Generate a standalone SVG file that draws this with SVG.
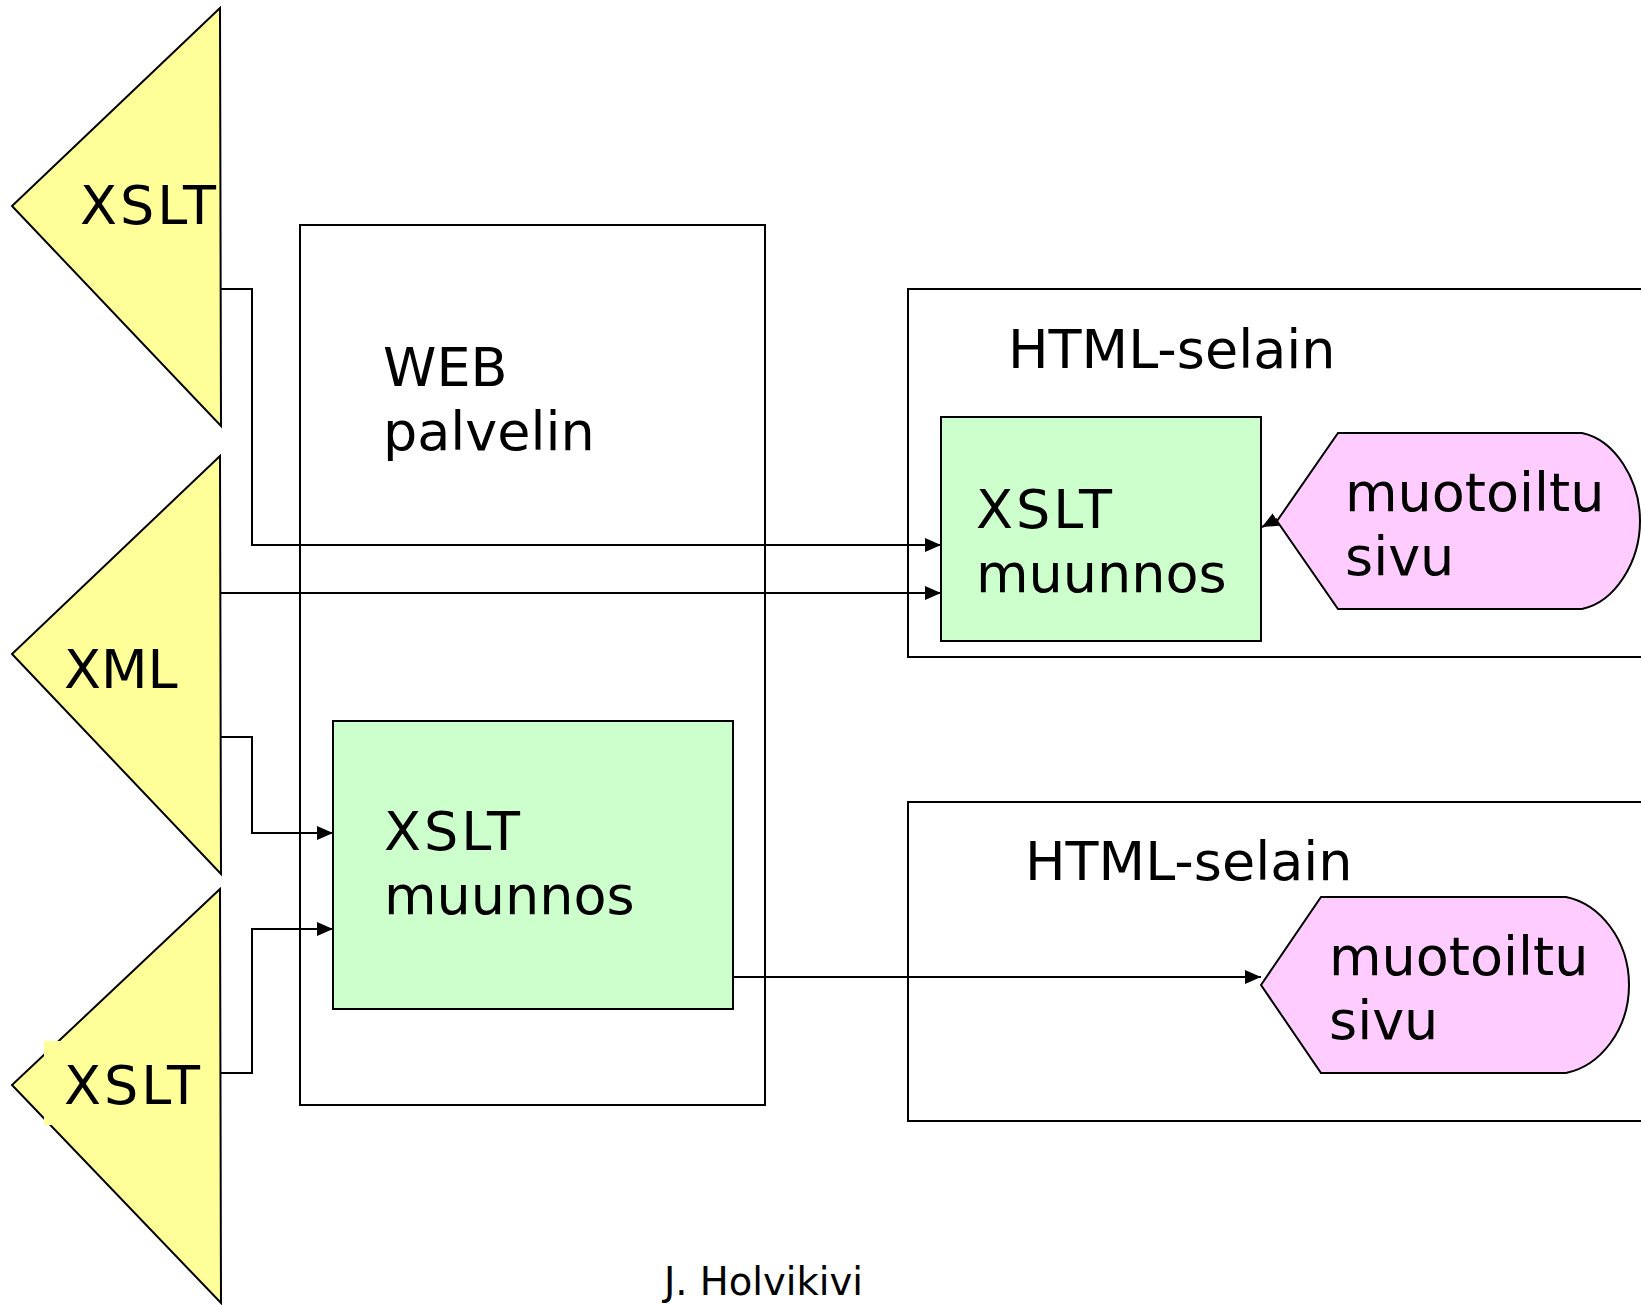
<svg xmlns="http://www.w3.org/2000/svg" width="1641" height="1305" viewBox="0 0 1641 1305">
  <style>
    .lbl { font-family: "DejaVu Sans", Verdana, sans-serif; font-size: 54px; fill: #000; }
    .wide { letter-spacing: 3px; }
    .foot { font-family: "DejaVu Sans", Verdana, sans-serif; font-size: 38.5px; fill: #000; }
    .doc { fill: #ffff99; stroke: #000; stroke-width: 2; }
    .proc { fill: #ccffcc; stroke: #000; stroke-width: 2; }
    .page { fill: #ffccff; stroke: #000; stroke-width: 2; }
    .frame { fill: none; stroke: #000; stroke-width: 2; }
    .wire { fill: none; stroke: #000; stroke-width: 2; }
  </style>
  <defs>
    <marker id="arr" markerWidth="16" markerHeight="14" refX="16" refY="7" orient="auto" markerUnits="userSpaceOnUse">
      <path d="M0,0 L16,7 L0,14 Z" fill="#000"/>
    </marker>
  </defs>
  <rect width="1641" height="1305" fill="#fff"/>

  <!-- containers -->
  <g id="web-server">
    <rect class="frame" x="300" y="225" width="465" height="880"/>
    <text class="lbl" x="383" y="386">WEB</text>
    <text class="lbl" x="383" y="450">palvelin</text>
  </g>
  <g id="browser-1">
    <rect class="frame" x="908" y="289" width="760" height="368"/>
    <text class="lbl" x="1008" y="368">HTML-selain</text>
  </g>
  <g id="browser-2">
    <rect class="frame" x="908" y="802" width="760" height="319"/>
    <text class="lbl" x="1025" y="880">HTML-selain</text>
  </g>

  <!-- source documents -->
  <g id="xslt-top">
    <polygon class="doc" points="220,8 12,206 221,426"/>
    <text class="lbl wide" x="80" y="224">XSLT</text>
  </g>
  <g id="xml">
    <polygon class="doc" points="220,456 12,654 221,874"/>
    <text class="lbl" x="64" y="688">XML</text>
  </g>
  <g id="xslt-bottom">
    <polygon class="doc" points="220,889 12,1085 221,1303"/>
    <rect x="44" y="1041" width="150" height="84" fill="#ffff99"/>
    <text class="lbl wide" x="64" y="1104">XSLT</text>
  </g>

  <!-- transforms -->
  <g id="transform-server">
    <rect class="proc" x="333" y="721" width="400" height="288"/>
    <text class="lbl wide" x="384" y="850">XSLT</text>
    <text class="lbl" x="384" y="914">muunnos</text>
  </g>
  <g id="transform-client">
    <rect class="proc" x="941" y="417" width="320" height="224"/>
    <text class="lbl wide" x="976" y="528">XSLT</text>
    <text class="lbl" x="976" y="592">muunnos</text>
  </g>

  <!-- formatted pages -->
  <g id="page-1">
    <path class="page" d="M1277,521 L1338,433 L1582,433 C1615,440 1640,480 1640,521 C1640,562 1615,602 1582,609 L1338,609 Z"/>
    <text class="lbl" x="1345" y="511">muotoiltu</text>
    <text class="lbl" x="1345" y="575">sivu</text>
  </g>
  <g id="page-2">
    <path class="page" d="M1261,985 L1321,897 L1566,897 C1600,904 1629,940 1629,985 C1629,1030 1600,1066 1566,1073 L1321,1073 Z"/>
    <text class="lbl" x="1329" y="975">muotoiltu</text>
    <text class="lbl" x="1329" y="1039">sivu</text>
  </g>

  <!-- connectors -->
  <g id="connectors">
    <polyline class="wire" points="221,289 252,289 252,545 941,545" marker-end="url(#arr)"/>
    <polyline class="wire" points="221,593 941,593" marker-end="url(#arr)"/>
    <polyline class="wire" points="221,737 252,737 252,833 333,833" marker-end="url(#arr)"/>
    <polyline class="wire" points="221,1073 252,1073 252,929 333,929" marker-end="url(#arr)"/>
    <polyline class="wire" points="733,977 1261,977" marker-end="url(#arr)"/>
    <line class="wire" x1="1277" y1="519" x2="1262" y2="527" marker-end="url(#arr)"/>
  </g>

  <text class="foot" x="664" y="1295">J. Holvikivi</text>
</svg>
